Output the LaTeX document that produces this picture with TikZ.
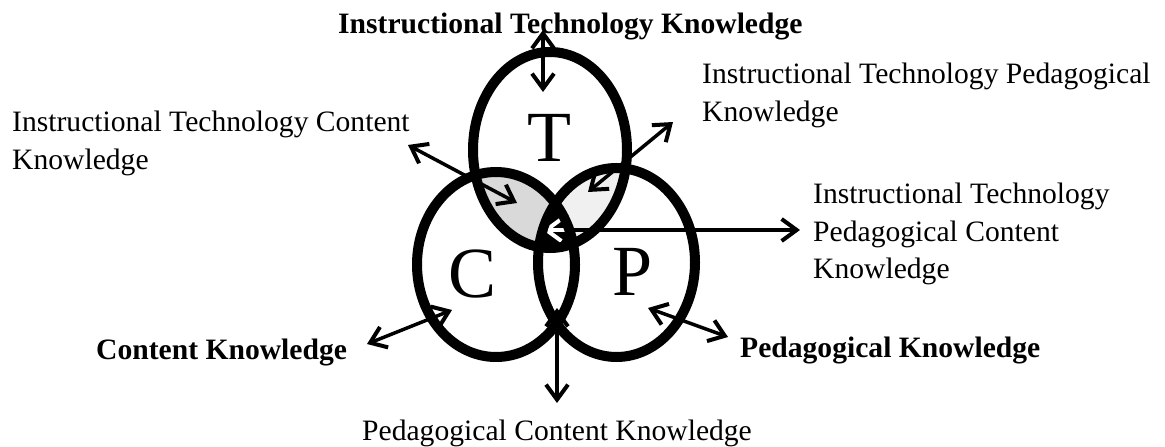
\documentclass[tikz,border=0pt]{standalone}
\usepackage{fontspec}
\setmainfont{Liberation Serif}
\usetikzlibrary{arrows.meta,shapes.geometric}
\begin{document}
\begin{tikzpicture}[x=1pt,y=-1pt,
  lbl/.style={inner sep=0pt, font=\fontsize{29.6}{37.5}\selectfont, align=left},
  blbl/.style={inner sep=0pt, font=\fontsize{29.6}{37.5}\selectfont\bfseries},
  ring/.style={ellipse, draw=black, line width=10pt, inner sep=0pt},
  letter/.style={inner sep=0pt, font=\fontsize{72}{80}\selectfont},
  barb/.tip={Straight Barb[length=15pt,width=22pt,line width=4pt]},
  dbl/.style={line width=3.5pt, barb-barb}
]
\useasboundingbox (0,0) rectangle (1165,447);
\fill[white] (0,0) rectangle (1165,447);

% shaded overlaps
\begin{scope}
  \clip (550,150) ellipse [x radius=77pt, y radius=98pt];
  \fill[gray!30] (496,264.5) ellipse [x radius=79pt, y radius=92.5pt];
  \fill[gray!12] (616.5,262.5) ellipse [x radius=78.5pt, y radius=94.5pt];
\end{scope}

% circles
\node[ring, minimum width=154pt, minimum height=196pt] (Tring) at (550,150) {};
\node[ring, minimum width=158pt, minimum height=185pt] (Cring) at (496,264.5) {};
\node[ring, minimum width=157pt, minimum height=189pt] (Pring) at (616.5,262.5) {};

% dark centre (triple overlap)
\begin{scope}
  \clip (550,150) ellipse [x radius=77pt, y radius=98pt];
  \clip (496,264.5) ellipse [x radius=79pt, y radius=92.5pt];
  \fill[black] (616.5,262.5) ellipse [x radius=78.5pt, y radius=94.5pt];
\end{scope}

% letters
\node[letter] (T) at (549,137.5) {T};
\node[letter] (C) at (473,274) {C};
\node[letter] (P) at (633,272) {P};

% labels
\node[blbl, anchor=base west] (itk) at (338,33) {Instructional Technology Knowledge};
\node[lbl, anchor=north west] (itpk) at (702,62.8) {Instructional Technology Pedagogical\\Knowledge};
\node[lbl, anchor=north west] (itck) at (12,110.8) {Instructional Technology Content\\Knowledge};
\node[lbl, anchor=north west] (itpck) at (813,182.8) {Instructional Technology\\Pedagogical Content\\Knowledge};
\node[blbl, anchor=base west] (ck) at (96,359) {Content Knowledge};
\node[blbl, anchor=base west] (pk) at (740,357) {Pedagogical Knowledge};
\node[lbl, anchor=base west] (pck) at (362,440) {Pedagogical Content Knowledge};

% arrow ends
\coordinate (a1) at (543,30);   \coordinate (b1) at (543,92);
\coordinate (a2) at (408,145);  \coordinate (b2) at (517,203);
\coordinate (a3) at (673,122);  \coordinate (b3) at (588,192);
\coordinate (a4) at (543,230);  \coordinate (b4) at (800,230);
\coordinate (a5) at (367,344);  \coordinate (b5) at (452,310);
\coordinate (a6) at (648,308);  \coordinate (b6) at (728,337);
\coordinate (a7) at (557,308);  \coordinate (b7) at (557,403);

\draw[dbl] (a1) -- (b1);
\draw[dbl] (a2) -- (b2);
\draw[dbl] (a3) -- (b3);
\draw[dbl] (a4) -- (b4);
\draw[dbl] (a5) -- (b5);
\draw[dbl] (a6) -- (b6);
\draw[dbl] (a7) -- (b7);

% the part of the arrow inside the dark centre shows light
\begin{scope}
  \clip (550,150) ellipse [x radius=72pt, y radius=93pt];
  \clip (496,264.5) ellipse [x radius=74pt, y radius=87.5pt];
  \clip (616.5,262.5) ellipse [x radius=73.5pt, y radius=89.5pt];
  \draw[dbl, white] (a4) -- (b4);
\end{scope}
\end{tikzpicture}
\end{document}
